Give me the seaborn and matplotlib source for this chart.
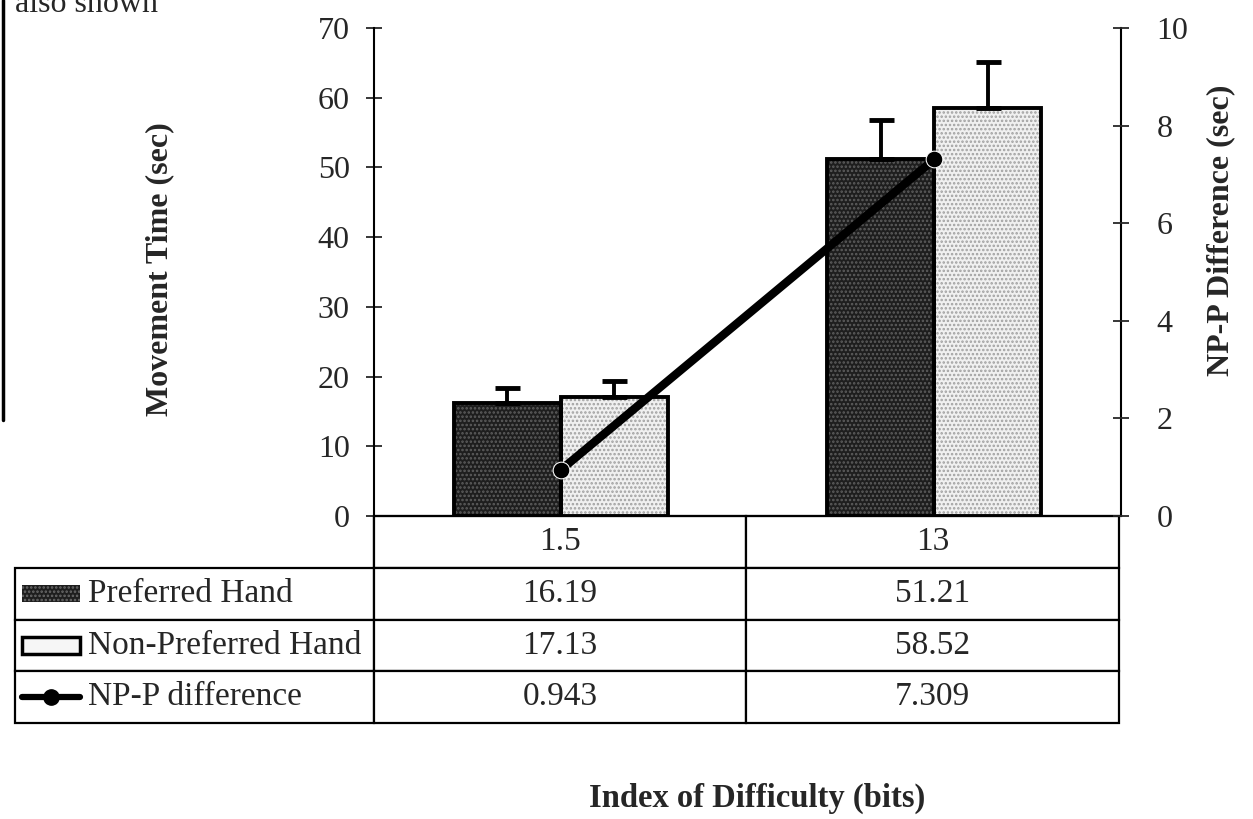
import pandas as pd
import matplotlib
matplotlib.use("Agg")
import matplotlib.pyplot as plt
from matplotlib.patches import Rectangle
from matplotlib.lines import Line2D
from matplotlib.table import Table
import seaborn as sns

# data
difficulty = ["1.5", "13"]
preferred = [16.19, 51.21]
non_preferred = [17.13, 58.52]
np_p_diff = [0.943, 7.309]
preferred_err = [2.2, 5.6]
non_preferred_err = [2.2, 6.6]
series_names = ["Preferred Hand", "Non-Preferred Hand", "NP-P difference"]

sns.set_style("white")
plt.rcParams["font.family"] = ["Liberation Serif", "DejaVu Serif"]
plt.rcParams["font.size"] = 23
plt.rcParams["hatch.linewidth"] = 1.2

df = pd.DataFrame({
    "ID": difficulty * 2,
    "hand": [series_names[0]] * 2 + [series_names[1]] * 2,
    "time": preferred + non_preferred,
    "err": preferred_err + non_preferred_err,
})

fig = plt.figure(figsize=(12.53, 8.19), dpi=100)
ax = fig.add_axes([374 / 1253, 1 - 516 / 819, 747 / 1253, 488 / 819])

sns.barplot(data=df, x="ID", y="time", hue="hand", order=difficulty,
            hue_order=series_names[:2], palette=["#222222", "#eeeeee"],
            width=0.574, errorbar=None, legend=False, ax=ax)

# stipple look + black outline, then upper error bars
err_of = dict(zip(df["time"], df["err"]))
dark_style = ("#1e1e1e", "#5e5e5e")
light_style = ("#f0f0f0", "#a0a0a0")
for p in list(ax.patches):
    h = p.get_height()
    fc, hc = dark_style if h in preferred else light_style
    p.set_facecolor(fc)
    p.set_edgecolor(hc)
    p.set_hatch("....")
    p.set_linewidth(0)
    ax.add_patch(Rectangle((p.get_x(), 0), p.get_width(), h, fill=False,
                           edgecolor="black", lw=2.8, zorder=3))
    xc = p.get_x() + p.get_width() / 2
    ax.errorbar(xc, h, yerr=[[0], [err_of[h]]], fmt="none", ecolor="black",
                elinewidth=2.8, capsize=9, capthick=3.5, zorder=2)

ax.set_ylim(0, 70)
ax.set_yticks(range(0, 71, 10))
ax.set_xlim(-0.5, 1.5)
ax.set_xticks([])
ax.set_xlabel("")
ax.set_ylabel("Movement Time (sec)", fontweight="bold", fontsize=23)
ax.yaxis.set_label_coords(-0.268, 0.506)
ax.tick_params(axis="y", direction="inout", length=11, width=1.3, labelsize=23, pad=12)
for s in ["left", "right", "bottom"]:
    ax.spines[s].set_color("black")
    ax.spines[s].set_linewidth(1.5)
ax.spines["top"].set_visible(False)

# NP-P difference on right axis
ax2 = ax.twinx()
sns.lineplot(x=[0, 1], y=np_p_diff, ax=ax2, color="black", lw=6,
             marker="o", markersize=12, zorder=5)
ax2.set_ylim(0, 10)
ax2.set_yticks(range(0, 11, 2))
ax2.set_xlim(-0.5, 1.5)
ax2.set_ylabel("NP-P Difference (sec)", fontweight="bold", fontsize=23)
ax2.yaxis.set_label_coords(1.114, 0.586)
ax2.tick_params(axis="y", direction="inout", length=11, width=1.3, labelsize=23, pad=20)
for s in ["left", "right", "bottom", "top"]:
    ax2.spines[s].set_visible(False)

# data table under the axis
x0, y0, w, h = (15 - 374) / 747, (516 - 723) / 488, (1119 - 15) / 747, 207 / 488
col_w = [359 / 1104 * w, 373 / 1104 * w, 373 / 1104 * w]
row_h = h / 4
tab = Table(ax, bbox=[x0, y0, w, h])
rows = [[""] + difficulty,
        [series_names[0]] + [f"{v:g}" for v in preferred],
        [series_names[1]] + [f"{v:g}" for v in non_preferred],
        [series_names[2]] + [f"{v:g}" for v in np_p_diff]]
for r, row in enumerate(rows):
    for c, txt in enumerate(row):
        cell = tab.add_cell(r, c, col_w[c], row_h, text=txt,
                            loc="left" if c == 0 else "center")
        cell.set_linewidth(1.6)
        cell.set_edgecolor("black")
        if c == 0:
            cell.PAD = 73 / 359
        if r == 0 and c == 0:
            cell.visible_edges = "R"
tab.auto_set_font_size(False)
tab.set_fontsize(24)
ax.add_table(tab)

# legend keys inside the label cells
kx0, kx1 = (22 - 374) / 747, (80 - 374) / 747
kh = 17 / 488
for i, name in enumerate(series_names):
    yc = y0 + h - (i + 1.5) * row_h
    if i == 0:
        ax.add_patch(Rectangle((kx0, yc - kh / 2), kx1 - kx0, kh, transform=ax.transAxes,
                               facecolor="#1e1e1e", edgecolor="#6a6a6a", hatch="....",
                               lw=0, clip_on=False, zorder=6))
    elif i == 1:
        ax.add_patch(Rectangle((kx0, yc - kh / 2), kx1 - kx0, kh, transform=ax.transAxes,
                               facecolor="#f6f6f6", edgecolor="black", lw=2.5,
                               clip_on=False, zorder=6))
    else:
        ax.add_line(Line2D([kx0, kx1], [yc, yc], transform=ax.transAxes, color="black",
                           lw=4.5, clip_on=False, zorder=6))
        ax.add_line(Line2D([(kx0 + kx1) / 2], [yc], transform=ax.transAxes, color="black",
                           marker="o", markersize=11, clip_on=False, zorder=6))

fig.text(757 / 1253, 1 - 798 / 819, "Index of Difficulty (bits)", ha="center",
         va="center", fontweight="bold", fontsize=23.5)
fig.text(15 / 1253, 1 - 12 / 819, "also shown", ha="left", va="baseline", fontsize=23)
fig.add_artist(Line2D([3 / 1253, 3 / 1253], [1, 1 - 420 / 819], color="black", lw=2.5))

fig.savefig("out.png", dpi=100)
